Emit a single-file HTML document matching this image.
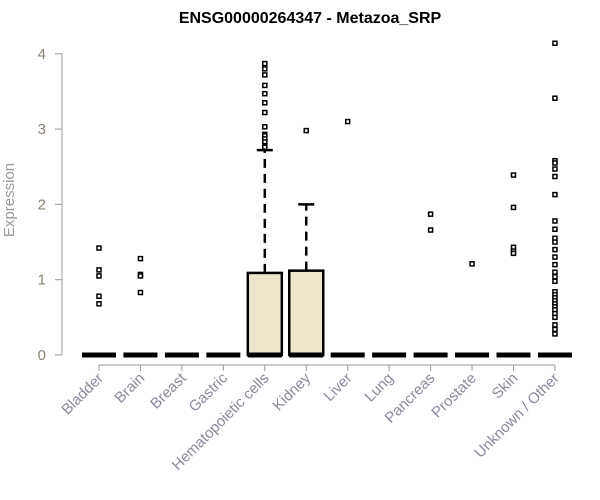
<!DOCTYPE html>
<html><head><meta charset="utf-8"><style>
html,body{margin:0;padding:0;background:#fff;}
svg{display:block;font-family:"Liberation Sans",Arial,sans-serif;}
</style></head><body>
<svg id="chart" width="600" height="500" viewBox="0 0 600 500">
<text x="310" y="23" text-anchor="middle" font-size="16" font-weight="bold" fill="#000">ENSG00000264347 - Metazoa_SRP</text>
<text x="0" y="0" transform="translate(14,200) rotate(-90)" text-anchor="middle" font-size="15" fill="#999">Expression</text>
<g id="axes"></g>
<g id="marks"></g>
</svg>
<script>
const categories=["Bladder","Brain","Breast","Gastric","Hematopoietic cells","Kidney","Liver","Lung","Pancreas","Prostate","Skin","Unknown / Other"];
const q1=[0,0,0,0,0,0,0,0,0,0,0,0];
const medians=[0,0,0,0,0,0,0,0,0,0,0,0];
const q3=[0,0,0,0,1.09,1.12,0,0,0,0,0,0];
const whiskerHigh=[0,0,0,0,2.72,2.0,0,0,0,0,0,0];
const outliers=[
[1.42,1.13,1.05,0.78,0.68],
[1.28,1.07,1.05,0.83],
[],[],
[3.87,3.80,3.72,3.58,3.47,3.35,3.22,3.03,2.93,2.91,2.87,2.83,2.78,2.76],
[2.98],[3.10],[],[1.87,1.66],[1.21],[2.39,1.96,1.43,1.38,1.35],
[4.14,3.41,2.58,2.55,2.47,2.37,2.13,1.78,1.67,1.55,1.50,1.40,1.30,1.20,1.10,1.04,0.98,0.84,0.80,0.76,0.72,0.68,0.64,0.60,0.55,0.50,0.40,0.34,0.28]
];
const yTicks=[0,1,2,3,4];

const NS="http://www.w3.org/2000/svg";
function y(v){return 355-75.3*v;}
function x(i){return 99+i*41.45;}
function mk(t,a,p){const e=document.createElementNS(NS,t);for(const k in a)e.setAttribute(k,a[k]);p.appendChild(e);return e;}
const axes=document.getElementById('axes'),marks=document.getElementById('marks');

const yl=mk('line',{x1:62,x2:62,y1:y(0),y2:y(4),stroke:'#999'},axes);


yTicks.forEach(t=>{
  const tk=mk('line',{x1:55,x2:62,y1:y(t),y2:y(t),stroke:'#999'},axes);
  
  
  const lb=mk('text',{x:46,y:y(t)+5,'text-anchor':'end','font-size':15,fill:'#8b8372'},axes);
  lb.textContent=t;
  
  
});
const xl=mk('line',{x1:x(0),x2:x(11),y1:365,y2:365,stroke:'#999'},axes);


categories.forEach((c,i)=>{
  const tk=mk('line',{x1:x(i),x2:x(i),y1:365,y2:371,stroke:'#999'},axes);
  
  
  const lb=mk('text',{x:0,y:0,transform:`translate(${x(i)+5},${379}) rotate(-45)`,'text-anchor':'end','font-size':15,fill:'#8a8a9e'},axes);
  lb.textContent=c;
  
  
});
const hw=17;
categories.forEach((c,i)=>{
  const cx=x(i);
  const g=mk('g',{},marks);
  
  
  if(whiskerHigh[i]>q3[i]){
    mk('line',{x1:cx,x2:cx,y1:y(q3[i]),y2:y(whiskerHigh[i]),stroke:'#000','stroke-width':2.5,'stroke-dasharray':'9,6'},g);
    mk('line',{x1:cx-8,x2:cx+8,y1:y(whiskerHigh[i]),y2:y(whiskerHigh[i]),stroke:'#000','stroke-width':2.5},g);
  }
  if(q3[i]>q1[i]){
    mk('rect',{x:cx-hw,y:y(q3[i]),width:2*hw,height:y(q1[i])-y(q3[i]),fill:'#ede6cd',stroke:'#000','stroke-width':2.5},g);
  }
  mk('line',{x1:cx-hw,x2:cx+hw,y1:y(medians[i]),y2:y(medians[i]),stroke:'#000','stroke-width':5},g);
  outliers[i].forEach(v=>{
    const o=mk('rect',{x:cx-2,y:y(v)-2,width:4,height:4,fill:'#fff',stroke:'#000','stroke-width':1.5},g);
    
    
  });
});
</script>
</body></html>
